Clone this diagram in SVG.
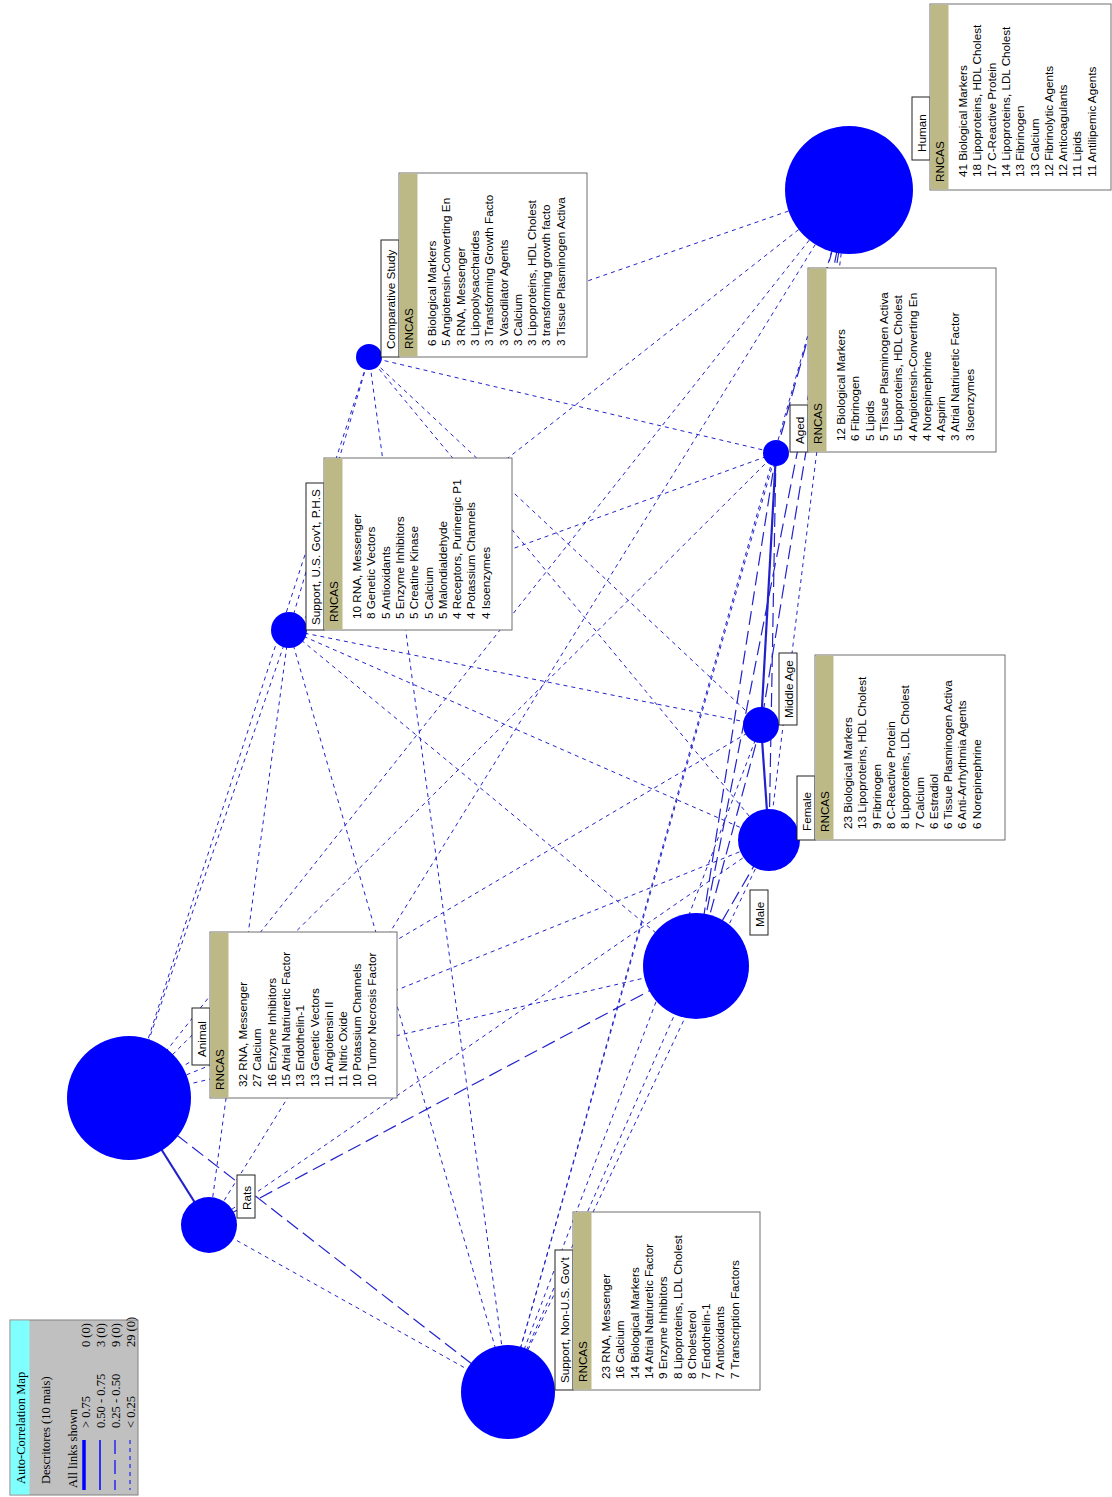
<svg xmlns="http://www.w3.org/2000/svg" width="1112" height="1497" viewBox="0 0 1112 1497">
<style>
.bg{fill:#ffffff}
.e{stroke:#2222cc;fill:none}
.s{stroke-width:1;stroke-dasharray:4 4}
.l{stroke-width:1.2;stroke-dasharray:14 6}
.f{stroke-width:2.2}
.n{fill:#0000ff}
.box{fill:#ffffff;stroke:#6e6e6e;stroke-width:1}
.tab{fill:#ffffff;stroke:#222;stroke-width:1}
.band{fill:#bdb986}
.t{font-family:"Liberation Sans",Arial,sans-serif;font-size:11.7px;fill:#000}
.lg{font-family:"Liberation Serif","Times New Roman",serif;font-size:12.5px;fill:#000}
</style>
<rect class="bg" x="0" y="0" width="1112" height="1497"/>
<g id="connectors">
<line class="e s" x1="849" y1="190" x2="369" y2="357"/>
<line class="e s" x1="849" y1="190" x2="289" y2="630"/>
<line class="e s" x1="849" y1="190" x2="769" y2="840"/>
<line class="e s" x1="849" y1="190" x2="129" y2="1098"/>
<line class="e s" x1="849" y1="190" x2="209" y2="1225"/>
<line class="e s" x1="849" y1="190" x2="508" y2="1392"/>
<line class="e s" x1="369" y1="357" x2="289" y2="630"/>
<line class="e s" x1="369" y1="357" x2="776" y2="453"/>
<line class="e s" x1="369" y1="357" x2="761" y2="725"/>
<line class="e s" x1="369" y1="357" x2="769" y2="840"/>
<line class="e s" x1="369" y1="357" x2="129" y2="1098"/>
<line class="e s" x1="369" y1="357" x2="508" y2="1392"/>
<line class="e s" x1="289" y1="630" x2="776" y2="453"/>
<line class="e s" x1="289" y1="630" x2="761" y2="725"/>
<line class="e s" x1="289" y1="630" x2="769" y2="840"/>
<line class="e s" x1="289" y1="630" x2="696" y2="966"/>
<line class="e s" x1="289" y1="630" x2="129" y2="1098"/>
<line class="e s" x1="289" y1="630" x2="209" y2="1225"/>
<line class="e s" x1="289" y1="630" x2="508" y2="1392"/>
<line class="e s" x1="776" y1="453" x2="129" y2="1098"/>
<line class="e s" x1="776" y1="453" x2="508" y2="1392"/>
<line class="e s" x1="761" y1="725" x2="129" y2="1098"/>
<line class="e s" x1="761" y1="725" x2="508" y2="1392"/>
<line class="e s" x1="769" y1="840" x2="129" y2="1098"/>
<line class="e s" x1="769" y1="840" x2="209" y2="1225"/>
<line class="e s" x1="769" y1="840" x2="508" y2="1392"/>
<line class="e s" x1="696" y1="966" x2="129" y2="1098"/>
<line class="e s" x1="696" y1="966" x2="508" y2="1392"/>
<line class="e s" x1="209" y1="1225" x2="508" y2="1392"/>
<line class="e l" x1="849" y1="190" x2="776" y2="453"/>
<line class="e l" x1="849" y1="190" x2="761" y2="725"/>
<line class="e l" x1="849" y1="190" x2="696" y2="966"/>
<line class="e l" x1="776" y1="453" x2="769" y2="840"/>
<line class="e l" x1="776" y1="453" x2="696" y2="966"/>
<line class="e l" x1="761" y1="725" x2="696" y2="966"/>
<line class="e l" x1="769" y1="840" x2="696" y2="966"/>
<line class="e l" x1="696" y1="966" x2="209" y2="1225"/>
<line class="e l" x1="129" y1="1098" x2="508" y2="1392"/>
<line class="e f" x1="776" y1="453" x2="761" y2="725"/>
<line class="e f" x1="761" y1="725" x2="769" y2="840"/>
<line class="e f" x1="129" y1="1098" x2="209" y2="1225"/>
</g>
<g id="node-human">
<circle class="n" cx="849" cy="190" r="64"/>
<rect class="tab" x="912" y="97" width="18" height="63"/>
<text class="t" transform="translate(926,152) rotate(-90)">Human</text>
<rect class="box" x="930" y="4" width="181" height="186"/>
<rect class="band" x="930.5" y="4.5" width="18" height="185"/>
<text class="t" transform="translate(944,182) rotate(-90)">RNCAS</text>
<text class="t" transform="translate(967,177) rotate(-90)">41 Biological Markers</text>
<text class="t" transform="translate(981.3,177) rotate(-90)">18 Lipoproteins, HDL Cholest</text>
<text class="t" transform="translate(995.6,177) rotate(-90)">17 C-Reactive Protein</text>
<text class="t" transform="translate(1009.9,177) rotate(-90)">14 Lipoproteins, LDL Cholest</text>
<text class="t" transform="translate(1024.2,177) rotate(-90)">13 Fibrinogen</text>
<text class="t" transform="translate(1038.5,177) rotate(-90)">13 Calcium</text>
<text class="t" transform="translate(1052.8,177) rotate(-90)">12 Fibrinolytic Agents</text>
<text class="t" transform="translate(1067.1,177) rotate(-90)">12 Anticoagulants</text>
<text class="t" transform="translate(1081.4,177) rotate(-90)">11 Lipids</text>
<text class="t" transform="translate(1095.7,177) rotate(-90)">11 Antilipemic Agents</text>
</g>
<g id="node-comparative">
<circle class="n" cx="369" cy="357" r="13"/>
<rect class="tab" x="381" y="240" width="18" height="117"/>
<text class="t" transform="translate(395,349) rotate(-90)">Comparative Study</text>
<rect class="box" x="399" y="173" width="188" height="184"/>
<rect class="band" x="399.5" y="173.5" width="18" height="183"/>
<text class="t" transform="translate(413,349) rotate(-90)">RNCAS</text>
<text class="t" transform="translate(436,346) rotate(-90)">6 Biological Markers</text>
<text class="t" transform="translate(450.3,346) rotate(-90)">5 Angiotensin-Converting En</text>
<text class="t" transform="translate(464.6,346) rotate(-90)">3 RNA, Messenger</text>
<text class="t" transform="translate(478.9,346) rotate(-90)">3 Lipopolysaccharides</text>
<text class="t" transform="translate(493.2,346) rotate(-90)">3 Transforming Growth Facto</text>
<text class="t" transform="translate(507.5,346) rotate(-90)">3 Vasodilator Agents</text>
<text class="t" transform="translate(521.8,346) rotate(-90)">3 Calcium</text>
<text class="t" transform="translate(536.1,346) rotate(-90)">3 Lipoproteins, HDL Cholest</text>
<text class="t" transform="translate(550.4,346) rotate(-90)">3 transforming growth facto</text>
<text class="t" transform="translate(564.7,346) rotate(-90)">3 Tissue Plasminogen Activa</text>
</g>
<g id="node-phs">
<circle class="n" cx="289" cy="630" r="18"/>
<rect class="tab" x="306" y="483" width="18" height="147"/>
<text class="t" transform="translate(320,625) rotate(-90)">Support, U.S. Gov't, P.H.S</text>
<rect class="box" x="324" y="458" width="188" height="172"/>
<rect class="band" x="324.5" y="458.5" width="18" height="171"/>
<text class="t" transform="translate(338,622) rotate(-90)">RNCAS</text>
<text class="t" transform="translate(361,619) rotate(-90)">10 RNA, Messenger</text>
<text class="t" transform="translate(375.3,619) rotate(-90)">8 Genetic Vectors</text>
<text class="t" transform="translate(389.6,619) rotate(-90)">5 Antioxidants</text>
<text class="t" transform="translate(403.9,619) rotate(-90)">5 Enzyme Inhibitors</text>
<text class="t" transform="translate(418.2,619) rotate(-90)">5 Creatine Kinase</text>
<text class="t" transform="translate(432.5,619) rotate(-90)">5 Calcium</text>
<text class="t" transform="translate(446.8,619) rotate(-90)">5 Malondialdehyde</text>
<text class="t" transform="translate(461.1,619) rotate(-90)">4 Receptors, Purinergic P1</text>
<text class="t" transform="translate(475.4,619) rotate(-90)">4 Potassium Channels</text>
<text class="t" transform="translate(489.7,619) rotate(-90)">4 Isoenzymes</text>
</g>
<g id="node-aged">
<circle class="n" cx="776" cy="453" r="13"/>
<rect class="tab" x="790" y="405" width="18" height="47"/>
<text class="t" transform="translate(804,444) rotate(-90)">Aged</text>
<rect class="box" x="808" y="268" width="188" height="184"/>
<rect class="band" x="808.5" y="268.5" width="18" height="183"/>
<text class="t" transform="translate(822,444) rotate(-90)">RNCAS</text>
<text class="t" transform="translate(845,441) rotate(-90)">12 Biological Markers</text>
<text class="t" transform="translate(859.3,441) rotate(-90)">6 Fibrinogen</text>
<text class="t" transform="translate(873.6,441) rotate(-90)">5 Lipids</text>
<text class="t" transform="translate(887.9,441) rotate(-90)">5 Tissue Plasminogen Activa</text>
<text class="t" transform="translate(902.2,441) rotate(-90)">5 Lipoproteins, HDL Cholest</text>
<text class="t" transform="translate(916.5,441) rotate(-90)">4 Angiotensin-Converting En</text>
<text class="t" transform="translate(930.8,441) rotate(-90)">4 Norepinephrine</text>
<text class="t" transform="translate(945.1,441) rotate(-90)">4 Aspirin</text>
<text class="t" transform="translate(959.4,441) rotate(-90)">3 Atrial Natriuretic Factor</text>
<text class="t" transform="translate(973.7,441) rotate(-90)">3 Isoenzymes</text>
</g>
<g id="node-middle-age">
<circle class="n" cx="761" cy="725" r="18"/>
<rect class="tab" x="779" y="653" width="18" height="72"/>
<text class="t" transform="translate(793,718) rotate(-90)">Middle Age</text>
</g>
<g id="node-female">
<circle class="n" cx="769" cy="840" r="31"/>
<rect class="tab" x="797" y="776" width="18" height="64"/>
<text class="t" transform="translate(811,831) rotate(-90)">Female</text>
<rect class="box" x="815" y="655" width="190" height="185"/>
<rect class="band" x="815.5" y="655.5" width="18" height="184"/>
<text class="t" transform="translate(829,832) rotate(-90)">RNCAS</text>
<text class="t" transform="translate(852,829) rotate(-90)">23 Biological Markers</text>
<text class="t" transform="translate(866.3,829) rotate(-90)">13 Lipoproteins, HDL Cholest</text>
<text class="t" transform="translate(880.6,829) rotate(-90)">9 Fibrinogen</text>
<text class="t" transform="translate(894.9,829) rotate(-90)">8 C-Reactive Protein</text>
<text class="t" transform="translate(909.2,829) rotate(-90)">8 Lipoproteins, LDL Cholest</text>
<text class="t" transform="translate(923.5,829) rotate(-90)">7 Calcium</text>
<text class="t" transform="translate(937.8,829) rotate(-90)">6 Estradiol</text>
<text class="t" transform="translate(952.1,829) rotate(-90)">6 Tissue Plasminogen Activa</text>
<text class="t" transform="translate(966.4,829) rotate(-90)">6 Anti-Arrhythmia Agents</text>
<text class="t" transform="translate(980.7,829) rotate(-90)">6 Norepinephrine</text>
</g>
<g id="node-male">
<circle class="n" cx="696" cy="966" r="53"/>
<rect class="tab" x="750" y="890" width="18" height="45"/>
<text class="t" transform="translate(764,927) rotate(-90)">Male</text>
</g>
<g id="node-animal">
<circle class="n" cx="129" cy="1098" r="62"/>
<rect class="tab" x="192" y="1008" width="18" height="57"/>
<text class="t" transform="translate(206,1057) rotate(-90)">Animal</text>
<rect class="box" x="210" y="932" width="187" height="166"/>
<rect class="band" x="210.5" y="932.5" width="18" height="165"/>
<text class="t" transform="translate(224,1090) rotate(-90)">RNCAS</text>
<text class="t" transform="translate(247,1087) rotate(-90)">32 RNA, Messenger</text>
<text class="t" transform="translate(261.3,1087) rotate(-90)">27 Calcium</text>
<text class="t" transform="translate(275.6,1087) rotate(-90)">16 Enzyme Inhibitors</text>
<text class="t" transform="translate(289.9,1087) rotate(-90)">15 Atrial Natriuretic Factor</text>
<text class="t" transform="translate(304.2,1087) rotate(-90)">13 Endothelin-1</text>
<text class="t" transform="translate(318.5,1087) rotate(-90)">13 Genetic Vectors</text>
<text class="t" transform="translate(332.8,1087) rotate(-90)">11 Angiotensin II</text>
<text class="t" transform="translate(347.1,1087) rotate(-90)">11 Nitric Oxide</text>
<text class="t" transform="translate(361.4,1087) rotate(-90)">10 Potassium Channels</text>
<text class="t" transform="translate(375.7,1087) rotate(-90)">10 Tumor Necrosis Factor</text>
</g>
<g id="node-rats">
<circle class="n" cx="209" cy="1225" r="28"/>
<rect class="tab" x="237" y="1175" width="18" height="43"/>
<text class="t" transform="translate(251,1210) rotate(-90)">Rats</text>
</g>
<g id="node-nonus">
<circle class="n" cx="508" cy="1392" r="47"/>
<rect class="tab" x="555" y="1250" width="18" height="140"/>
<text class="t" transform="translate(569,1383) rotate(-90)">Support, Non-U.S. Gov't</text>
<rect class="box" x="573" y="1212" width="187" height="178"/>
<rect class="band" x="573.5" y="1212.5" width="18" height="177"/>
<text class="t" transform="translate(587,1382) rotate(-90)">RNCAS</text>
<text class="t" transform="translate(610,1379) rotate(-90)">23 RNA, Messenger</text>
<text class="t" transform="translate(624.3,1379) rotate(-90)">16 Calcium</text>
<text class="t" transform="translate(638.6,1379) rotate(-90)">14 Biological Markers</text>
<text class="t" transform="translate(652.9,1379) rotate(-90)">14 Atrial Natriuretic Factor</text>
<text class="t" transform="translate(667.2,1379) rotate(-90)">9 Enzyme Inhibitors</text>
<text class="t" transform="translate(681.5,1379) rotate(-90)">8 Lipoproteins, LDL Cholest</text>
<text class="t" transform="translate(695.8,1379) rotate(-90)">8 Cholesterol</text>
<text class="t" transform="translate(710.1,1379) rotate(-90)">7 Endothelin-1</text>
<text class="t" transform="translate(724.4,1379) rotate(-90)">7 Antioxidants</text>
<text class="t" transform="translate(738.7,1379) rotate(-90)">7 Transcription Factors</text>
</g>
<g id="legend">
<rect x="10" y="1320" width="128" height="175" fill="#c0c0c0" stroke="#808080" stroke-width="1"/>
<rect x="10.5" y="1320.5" width="19" height="174" fill="#80ffff"/>
<text class="lg" transform="translate(25,1484) rotate(-90)">Auto-Correlation Map</text>
<text class="lg" transform="translate(50,1484) rotate(-90)">Descritores (10 mais)</text>
<text class="lg" transform="translate(77,1488) rotate(-90)">All links shown</text>
<line x1="84" y1="1440" x2="84" y2="1490" stroke="#0000ff" stroke-width="3.5"/>
<line x1="100" y1="1440" x2="100" y2="1490" stroke="#0000ff" stroke-width="1.5"/>
<line x1="115" y1="1440" x2="115" y2="1490" stroke="#0000ff" stroke-width="1.2" stroke-dasharray="14 6"/>
<line x1="130" y1="1440" x2="130" y2="1490" stroke="#0000ff" stroke-width="1" stroke-dasharray="4 4"/>
<text class="lg" transform="translate(90,1428) rotate(-90)">&gt; 0.75</text>
<text class="lg" transform="translate(90,1347) rotate(-90)">0 (0)</text>
<text class="lg" transform="translate(105,1428) rotate(-90)">0.50 - 0.75</text>
<text class="lg" transform="translate(105,1347) rotate(-90)">3 (0)</text>
<text class="lg" transform="translate(120,1428) rotate(-90)">0.25 - 0.50</text>
<text class="lg" transform="translate(120,1347) rotate(-90)">9 (0)</text>
<text class="lg" transform="translate(135,1428) rotate(-90)">&lt; 0.25</text>
<text class="lg" transform="translate(135,1347) rotate(-90)">29 (0)</text>
</g>
</svg>
